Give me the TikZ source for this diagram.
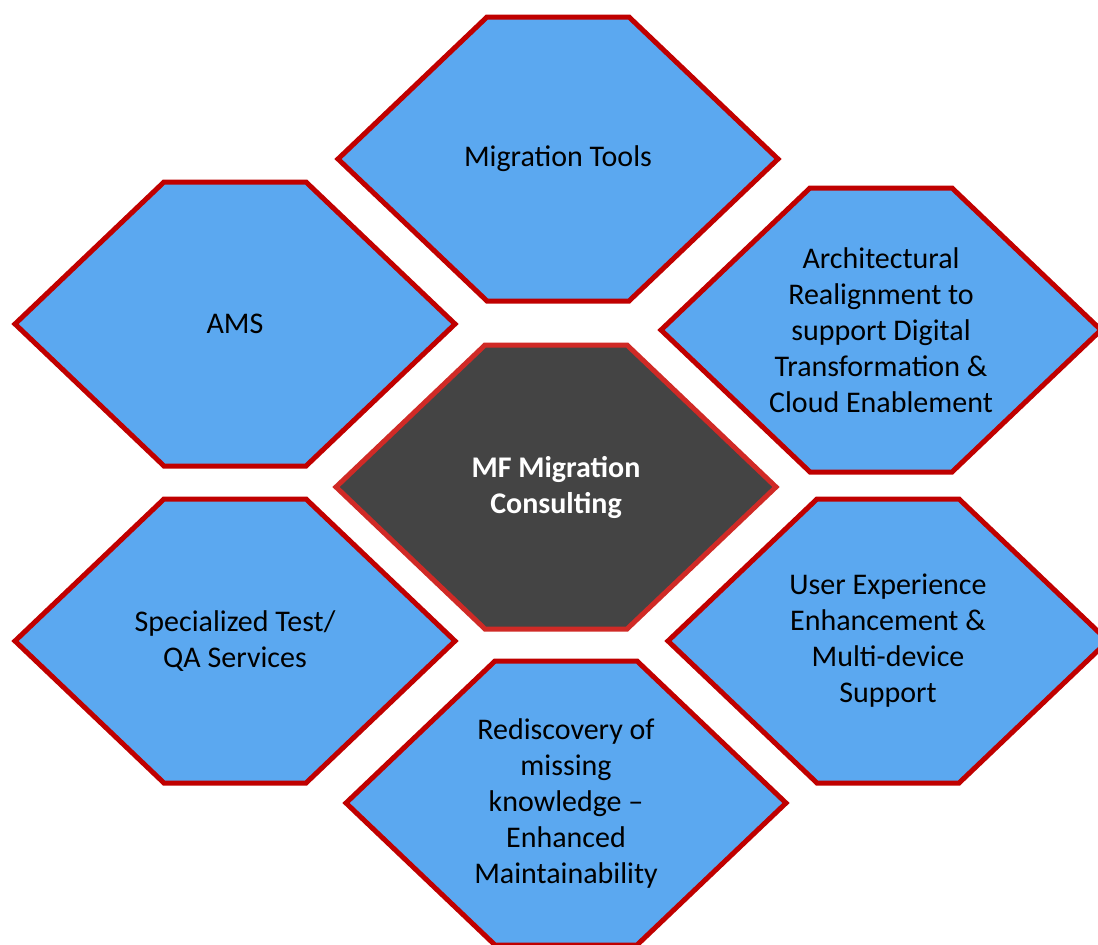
\documentclass[tikz,border=0pt]{standalone}
\usepackage{fontspec}
\setmainfont{Carlito}
\definecolor{cellblue}{RGB}{91,168,240}
\definecolor{cellred}{RGB}{192,0,0}
\definecolor{corered}{RGB}{208,42,38}
\definecolor{coregray}{RGB}{68,68,68}
\tikzset{
	every node/.style={align=center,font=\fontsize{30}{36}\selectfont},
	cell/.style={fill=cellblue,draw=cellred,line width=5pt,line join=miter},
	core/.style={fill=coregray,draw=corered,line width=5pt,line join=miter},
	core-text/.style={text=white,font=\fontsize{30}{36}\selectfont\bfseries},
}
% flat top and bottom, pointed left and right
\newcommand{\hexpath}[1]{(#1) ++(-220,0) -- ++(149,-142) -- ++(142,0) -- ++(149,142) -- ++(-149,142) -- ++(-142,0) -- cycle}

\begin{document}
\begin{tikzpicture}[x=1pt,y=-1pt]
	\useasboundingbox (0,0) rectangle (1098,945);
	\clip (0,0) rectangle (1098,945);
	\fill[white] (0,0) rectangle (1098,945);

	\path[cell] \hexpath{558,159};
	\path[cell] \hexpath{235,324};
	\path[cell] \hexpath{881,330};
	\path[core] \hexpath{556,487};
	\path[cell] \hexpath{235,641};
	\path[cell] \hexpath{888,641};
	\path[cell] \hexpath{566,803};

	\node (tools) at (558,159) {Migration Tools};
	\node (ams) at (235,324) {AMS};
	\node (arch) at (881,330) {Architectural\\Realignment to\\support Digital\\Transformation \&\\Cloud Enablement};
	\node[core-text] (mf) at (556,487) {MF Migration\\Consulting};
	\node (test) at (235,641) {Specialized Test/\\QA Services};
	\node (ux) at (888,641) {User Experience\\Enhancement \&\\Multi-device\\Support};
	\node (rediscovery) at (566,803) {Rediscovery of\\missing\\knowledge --\\Enhanced\\Maintainability};
\end{tikzpicture}
\end{document}
